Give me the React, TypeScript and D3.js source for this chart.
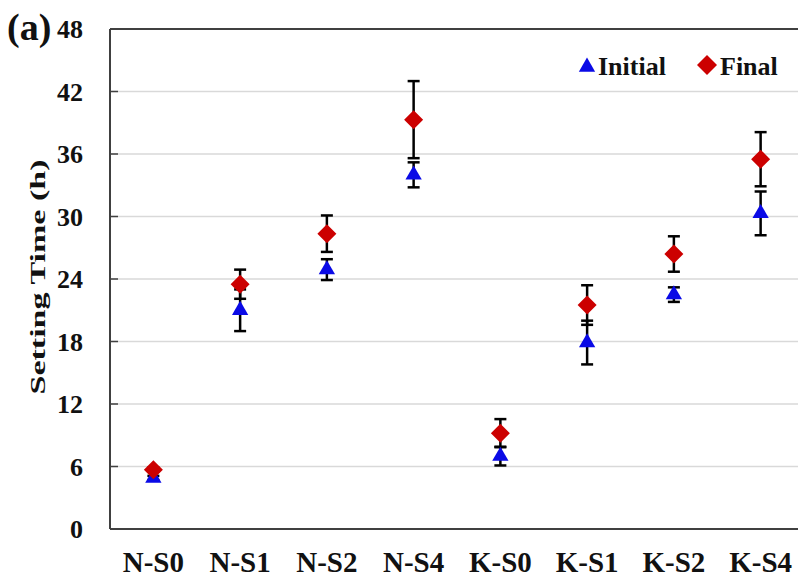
import React from "react";
import * as d3 from "d3";

const categories = ["N-S0", "N-S1", "N-S2", "N-S4", "K-S0", "K-S1", "K-S2", "K-S4"];
const initialValues = [4.9, 21.0, 24.9, 34.0, 7.0, 17.9, 22.5, 30.3];
const initialErrors = [0.2, 2.0, 1.0, 1.2, 0.9, 2.1, 0.7, 2.1];
const finalValues = [5.7, 23.5, 28.35, 39.3, 9.2, 21.5, 26.4, 35.5];
const finalErrors = [0.2, 1.4, 1.75, 3.7, 1.35, 1.9, 1.7, 2.6];
const yTicks = [0, 6, 12, 18, 24, 30, 36, 42, 48];

const W = 798;
const H = 578;
const left = 110;
const top = 29;
const bottom = 529;
const right = 804;
const FONT = "'Liberation Serif', 'Times New Roman', serif";

export default function App() {
  const x = d3.scaleBand<string>().domain(categories).range([left, right]).padding(0);
  const cx = (c: string) => (x(c) as number) + x.bandwidth() / 2;
  const y = d3.scaleLinear().domain([0, 48]).range([bottom, top]);

  const tri = d3.symbol().type(d3.symbolTriangle).size(115)() as string;
  const dia = (s: number) => `M0,${-s}L${s},0L0,${s}L${-s},0Z`;

  const errBar = (c: string, v: number, e: number, key: string) => {
    const px = cx(c);
    const y1 = y(v + e);
    const y2 = y(v - e);
    return (
      <g key={key} stroke="#000" strokeWidth={2.5}>
        <line x1={px} x2={px} y1={y1} y2={y2} />
        <line x1={px - 6} x2={px + 6} y1={y1} y2={y1} />
        <line x1={px - 6} x2={px + 6} y1={y2} y2={y2} />
      </g>
    );
  };

  return (
    <svg width={W} height={H} style={{ position: "absolute", left: 0, top: 0, background: "#fff" }}>
      {yTicks.filter((t) => t > 0 && t < 48).map((t) => (
        <line key={"g" + t} x1={left} x2={W} y1={y(t)} y2={y(t)} stroke="#d9d9d9" strokeWidth={1.5} />
      ))}
      <line x1={left} x2={W} y1={top} y2={top} stroke="#404040" strokeWidth={2} />
      <line x1={left} x2={W} y1={bottom} y2={bottom} stroke="#404040" strokeWidth={2} />
      <line x1={left} x2={left} y1={top} y2={bottom} stroke="#404040" strokeWidth={2} />
      {yTicks.map((t) => (
        <g key={"t" + t}>
          <line x1={left} x2={left + 8} y1={y(t)} y2={y(t)} stroke="#404040" strokeWidth={1.5} />
          <text x={83} y={y(t)} dy="0.35em" textAnchor="end" fontFamily={FONT} fontWeight="bold" fontSize={26} fill="#111">
            {t}
          </text>
        </g>
      ))}
      <text x={7} y={27} dy="0.35em" fontFamily={FONT} fontWeight="bold" fontSize={38} fill="#111">(a)</text>
      {categories.map((c) => (
        <text key={"x" + c} x={cx(c)} y={562} dy="0.35em" textAnchor="middle" fontFamily={FONT} fontWeight="bold" fontSize={29} fill="#111">
          {c}
        </text>
      ))}
      <text
        transform={`translate(37,${277}) rotate(-90)`}
        textAnchor="middle"
        dy="0.35em"
        fontFamily={FONT}
        fontWeight="bold"
        fontSize={22}
        textLength={235}
        lengthAdjust="spacingAndGlyphs"
        fill="#111"
      >
        Setting Time (h)
      </text>
      {categories.map((c, i) => errBar(c, initialValues[i], initialErrors[i], "ei" + i))}
      {categories.map((c, i) => errBar(c, finalValues[i], finalErrors[i], "ef" + i))}
      {categories.map((c, i) => (
        <path key={"mi" + i} d={tri} transform={`translate(${cx(c)},${y(initialValues[i])})`} fill="#0a0ae6" />
      ))}
      {categories.map((c, i) => (
        <path key={"mf" + i} d={dia(9.5)} transform={`translate(${cx(c)},${y(finalValues[i])})`} fill="#cc0000" />
      ))}
      <path d={tri} transform="translate(587,67)" fill="#0a0ae6" />
      <text x={598} y={66} dy="0.35em" fontFamily={FONT} fontWeight="bold" fontSize={26} fill="#111">Initial</text>
      <path d={dia(10)} transform="translate(707,65)" fill="#cc0000" />
      <text x={720} y={66} dy="0.35em" fontFamily={FONT} fontWeight="bold" fontSize={26} fill="#111">Final</text>
    </svg>
  );
}
